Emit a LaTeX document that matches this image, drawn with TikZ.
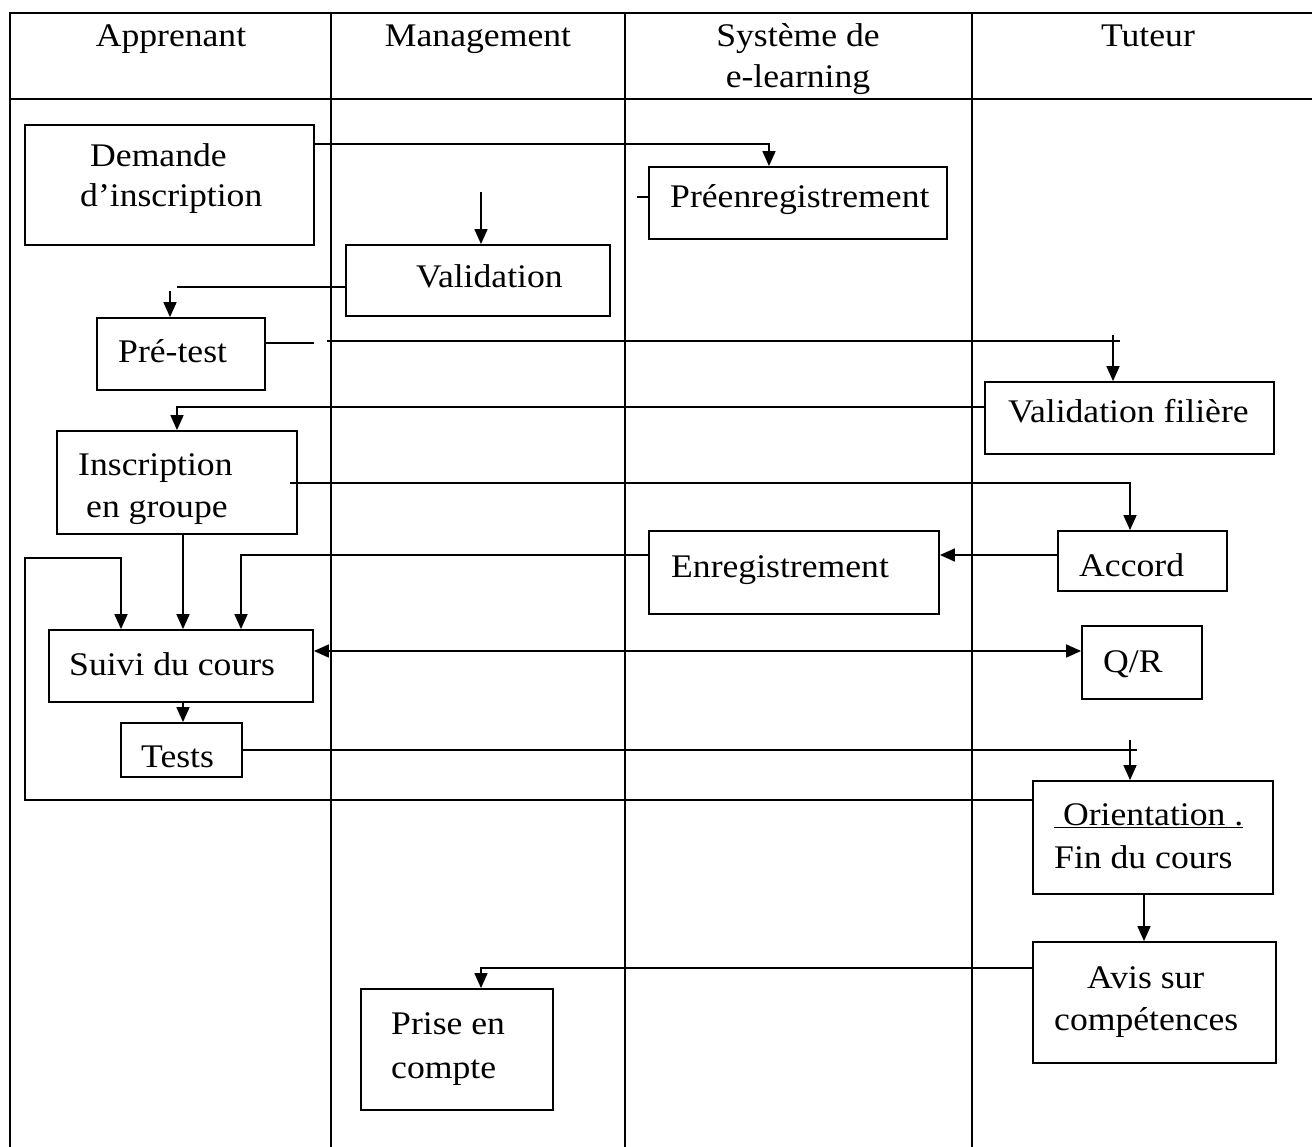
\documentclass[tikz,border=0pt]{standalone}
\usepackage{fontspec}
\setmainfont{Liberation Serif}[FakeStretch=1.08]
\usetikzlibrary{arrows.meta,fit}
\begin{document}
\begin{tikzpicture}[x=1pt,y=-1pt,
  grid/.style={line width=2.2pt},
  box/.style={draw, line width=1.8pt, inner sep=0pt},
  link/.style={line width=1.6pt},
  boldlink/.style={line width=2.4pt},
  arr/.style={link, -{Triangle[length=15pt,width=13pt]}},
  dbl/.style={link, {Triangle[length=15pt,width=13pt]}-{Triangle[length=15pt,width=13pt]}},
  txt/.style={inner sep=0pt, anchor=base west, font=\fontsize{33}{42}\selectfont},
  head/.style={inner sep=0pt, anchor=base, font=\fontsize{33}{42}\selectfont}
]
\useasboundingbox (0,0) rectangle (1312,1147);

% swimlane table
\draw[grid] (10,1147) -- (10,13) -- (1312,13);
\draw[grid] (10,99) -- (1312,99);
\draw[grid] (331,13) -- (331,1147);
\draw[grid] (625,13) -- (625,1147);
\draw[grid] (972,13) -- (972,1147);

% lane headers
\node[head] (hA) at (171,47) {Apprenant};
\node[head] (hM) at (478,47) {Management};
\node[head] (hS1) at (798,47) {Système de};
\node[head] (hS2) at (798,88) {e-learning};
\node[head] (hT) at (1148,47) {Tuteur};

% activity boxes
\node[box, fit={(25,125) (314,245)}] (demande) {};
\node[box, fit={(649,167) (947,239)}] (preenr) {};
\node[box, fit={(346,245) (610,316)}] (valid) {};
\node[box, fit={(97,318) (265,390)}] (pretest) {};
\node[box, fit={(985,382) (1274,454)}] (valfil) {};
\node[box, fit={(57,431) (297,534)}] (inscr) {};
\node[box, fit={(1058,531) (1227,591)}] (accord) {};
\node[box, fit={(649,531) (939,614)}] (enreg) {};
\node[box, fit={(49,630) (313,702)}] (suivi) {};
\node[box, fit={(1082,626) (1202,699)}] (qr) {};
\node[box, fit={(121,723) (242,777)}] (tests) {};
\node[box, fit={(1033,781) (1273,894)}] (orient) {};
\node[box, fit={(1033,942) (1276,1063)}] (avis) {};
\node[box, fit={(361,989) (553,1110)}] (prise) {};

% box texts
\node[txt] (tDem1) at (90,167) {Demande};
\node[txt] (tDem2) at (80,207) {d’inscription};
\node[txt] (tPre) at (670,208) {Préenregistrement};
\node[txt] (tVal) at (416,288) {Validation};
\node[txt] (tPt) at (118,363) {Pré-test};
\node[txt] (tVf) at (1008,423) {Validation filière};
\node[txt] (tIn1) at (78,475) {Inscription};
\node[txt] (tIn2) at (86,517) {en groupe};
\node[txt] (tAcc) at (1079,576) {Accord};
\node[txt] (tEnr) at (671,577) {Enregistrement};
\node[txt] (tSui) at (69,675) {Suivi du cours};
\node[txt] (tQR) at (1103,672) {Q/R};
\node[txt] (tTes) at (141,767) {Tests};
\node[txt] (tOr1) at (1054,825) {\underline{\ Orientation .}};
\node[txt] (tOr2) at (1054,868) {Fin du cours};
\node[txt] (tAv1) at (1087,988) {Avis sur};
\node[txt] (tAv2) at (1054,1030) {compétences};
\node[txt] (tPr1) at (391,1034) {Prise en};
\node[txt] (tPr2) at (391,1078) {compte};

% bend and free-end points of the connectors
\coordinate (kA) at (769,144);
\coordinate (mTop) at (481,192);
\coordinate (tick) at (637,197);
\coordinate (kV) at (177,287);
\coordinate (kP) at (170,291);
\coordinate (kT1) at (314,343);
\coordinate (kT2) at (327,341);
\coordinate (kT3) at (1120,341);
\coordinate (kT4) at (1113,335);
\coordinate (kF) at (177,407);
\coordinate (kG1) at (290,483);
\coordinate (kG2) at (1130,483);
\coordinate (kH) at (0,555);
\coordinate (kI) at (241,555);
\coordinate (kJ) at (183,0);
\coordinate (lp1) at (25,800);
\coordinate (lp2) at (25,558);
\coordinate (lp3) at (121,558);
\coordinate (kL) at (0,651);
\coordinate (kN1) at (1137,750);
\coordinate (kN2) at (1130,740);
\coordinate (kO) at (1144,0);
\coordinate (kQ) at (481,968);

% connectors
\draw[arr] (demande.east |- kA) -- (kA) -- (preenr.north -| kA);
\draw[arr] (mTop) -- (valid.north -| mTop);
\draw[link] (tick) -- (preenr.west |- tick);
\draw[link] (valid.west |- kV) -- (kV);
\draw[arr] (kP) -- (pretest.north -| kP);
\draw[link] (pretest.east |- kT1) -- (kT1);
\draw[boldlink] (kT2) -- (kT3);
\draw[arr] (kT4) -- (valfil.north -| kT4);
\draw[arr] (valfil.west |- kF) -- (kF) -- (inscr.north -| kF);
\draw[arr] (kG1) -- (kG2) -- (accord.north -| kG2);
\draw[arr] (accord.west |- kH) -- (enreg.east |- kH);
\draw[arr] (enreg.west |- kI) -- (kI) -- (suivi.north -| kI);
\draw[arr] (inscr.south -| kJ) -- (suivi.north -| kJ);
\draw[arr] (orient.west |- lp1) -- (lp1) -- (lp2) -- (lp3) -- (suivi.north -| lp3);
\draw[dbl] (suivi.east |- kL) -- (qr.west |- kL);
\draw[arr] (suivi.south -| kJ) -- (tests.north -| kJ);
\draw[boldlink] (tests.east |- kN1) -- (kN1);
\draw[arr] (kN2) -- (orient.north -| kN2);
\draw[arr] (orient.south -| kO) -- (avis.north -| kO);
\draw[arr] (avis.west |- kQ) -- (kQ) -- (prise.north -| kQ);
\end{tikzpicture}
\end{document}
